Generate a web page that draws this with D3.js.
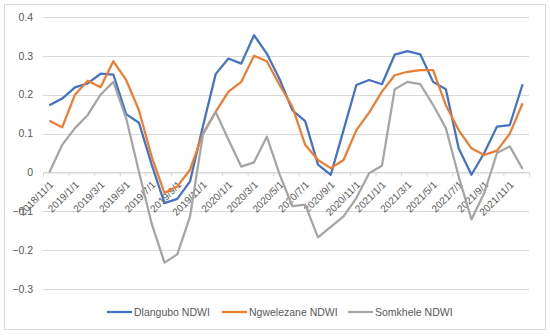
<!DOCTYPE html>
<html>
<head>
<meta charset="utf-8">
<script src="https://cdn.jsdelivr.net/npm/d3@7"></script>
<style>
  body { margin: 0; background: #fff; }
  text { font-family: "Liberation Sans", Arial, sans-serif; fill: #595959; }
</style>
</head>
<body>
<div id="chart"></div>
<script>
// Monthly categories
const months = [
  "2018/11/1", "2018/12/1",
  "2019/1/1", "2019/2/1", "2019/3/1", "2019/4/1", "2019/5/1", "2019/6/1",
  "2019/7/1", "2019/8/1", "2019/9/1", "2019/10/1", "2019/11/1", "2019/12/1",
  "2020/1/1", "2020/2/1", "2020/3/1", "2020/4/1", "2020/5/1", "2020/6/1",
  "2020/7/1", "2020/8/1", "2020/9/1", "2020/10/1", "2020/11/1", "2020/12/1",
  "2021/1/1", "2021/2/1", "2021/3/1", "2021/4/1", "2021/5/1", "2021/6/1",
  "2021/7/1", "2021/8/1", "2021/9/1", "2021/10/1", "2021/11/1", "2021/12/1"
];

// Series values
const dlangubo = [
  0.173, 0.19, 0.219, 0.229, 0.254, 0.252, 0.15, 0.128, 0.02, -0.079,
  -0.068, -0.023, 0.118, 0.253, 0.293, 0.28, 0.353, 0.306, 0.24, 0.16,
  0.132, 0.02, -0.006, 0.109, 0.225, 0.238, 0.227, 0.303, 0.312, 0.304,
  0.233, 0.214, 0.062, -0.006, 0.05, 0.118, 0.122, 0.227
];
const ngwelezane = [
  0.133, 0.116, 0.2, 0.236, 0.219, 0.286, 0.238, 0.16, 0.04, -0.053,
  -0.036, 0.007, 0.1, 0.156, 0.208, 0.233, 0.3, 0.286, 0.225, 0.169,
  0.071, 0.032, 0.011, 0.032, 0.109, 0.154, 0.208, 0.25, 0.259, 0.263,
  0.263, 0.173, 0.109, 0.062, 0.045, 0.056, 0.1, 0.178
];
const somkhele = [
  0, 0.071, 0.114, 0.148, 0.2, 0.233, 0.14, 0.002, -0.132, -0.232,
  -0.211, -0.113, 0.097, 0.156, 0.084, 0.015, 0.026, 0.092, -0.005, -0.087,
  -0.083, -0.167, -0.14, -0.113, -0.066, -0.002, 0.017, 0.214, 0.233, 0.227,
  0.174, 0.114, -0.01, -0.121, -0.053, 0.05, 0.067, 0.009
];

// Tick labels
const yTicks = [-0.3, -0.2, -0.1, 0, 0.1, 0.2, 0.3, 0.4];
const xTickLabels = [
  "2018/11/1", "2019/1/1", "2019/3/1", "2019/5/1", "2019/7/1", "2019/9/1",
  "2019/11/1", "2020/1/1", "2020/3/1", "2020/5/1", "2020/7/1", "2020/9/1",
  "2020/11/1", "2021/1/1", "2021/3/1", "2021/5/1", "2021/7/1", "2021/9/1",
  "2021/11/1"
];

const series = [
  { name: "Dlangubo NDWI", values: dlangubo, color: "#4472C4" },
  { name: "Ngwelezane NDWI", values: ngwelezane, color: "#ED7D31" },
  { name: "Somkhele NDWI", values: somkhele, color: "#A5A5A5" }
];

const W = 550, H = 336;
const plotLeft = 43, plotRight = 529, plotTop = 17, plotBottom = 289;

const svg = d3.select("#chart").append("svg")
  .attr("width", W).attr("height", H);

// Chart border
svg.append("rect")
  .attr("x", 4.5).attr("y", 4.5)
  .attr("width", 541).attr("height", 325)
  .attr("fill", "#fff").attr("stroke", "#d9d9d9");

// Scales: months are equal-width categories, points at their centres
const x = d3.scaleLinear().domain([0, months.length]).range([plotLeft, plotRight]);
const y = d3.scaleLinear().domain([-0.3, 0.4]).range([plotBottom, plotTop]);

// Gridlines
svg.append("g")
  .selectAll("line")
  .data(yTicks)
  .join("line")
  .attr("x1", plotLeft).attr("x2", plotRight)
  .attr("y1", (d) => Math.round(y(d)) + 0.5)
  .attr("y2", (d) => Math.round(y(d)) + 0.5)
  .attr("stroke", "#d9d9d9");

// Y axis labels
svg.append("g")
  .selectAll("text")
  .data(yTicks)
  .join("text")
  .attr("x", 33)
  .attr("y", (d) => y(d))
  .attr("dy", "0.35em")
  .attr("text-anchor", "end")
  .style("font-size", "10.5px")
  .text((d) => d3.format("")(+d.toFixed(1)));

// X axis along zero, ticks every 2 months
const xAxis = svg.append("g")
  .attr("transform", `translate(0,${Math.round(y(0)) + 0.5})`)
  .call(
    d3.axisBottom(x)
      .tickValues(d3.range(0, months.length + 1, 2))
      .tickSize(4)
      .tickFormat("")
  );
xAxis.select(".domain").attr("stroke", "#d9d9d9");
xAxis.selectAll(".tick line").attr("stroke", "#d9d9d9");

// Rotated date labels
svg.append("g")
  .selectAll("text")
  .data(xTickLabels)
  .join("text")
  .attr("transform", (d, i) => `translate(${x(i * 2) + 11},${y(0) + 13}) rotate(-45)`)
  .attr("text-anchor", "end")
  .style("font-size", "10px")
  .text((d) => d);

// Lines
const line = d3.line()
  .x((d, i) => x(i + 0.5))
  .y((d) => y(d));

svg.append("g")
  .selectAll("path")
  .data(series)
  .join("path")
  .attr("d", (d) => line(d.values))
  .attr("fill", "none")
  .attr("stroke", (d) => d.color)
  .attr("stroke-width", 2.25)
  .attr("stroke-linejoin", "round");

// Legend
const legendX = [107, 222, 348];
const legend = svg.append("g")
  .selectAll("g")
  .data(series)
  .join("g")
  .attr("transform", (d, i) => `translate(${legendX[i]},312)`);
legend.append("line")
  .attr("x1", 0).attr("x2", 25)
  .attr("stroke", (d) => d.color)
  .attr("stroke-width", 2.25);
legend.append("text")
  .attr("x", 27)
  .attr("dy", "0.35em")
  .style("font-size", "10.5px")
  .text((d) => d.name);
</script>
</body>
</html>
